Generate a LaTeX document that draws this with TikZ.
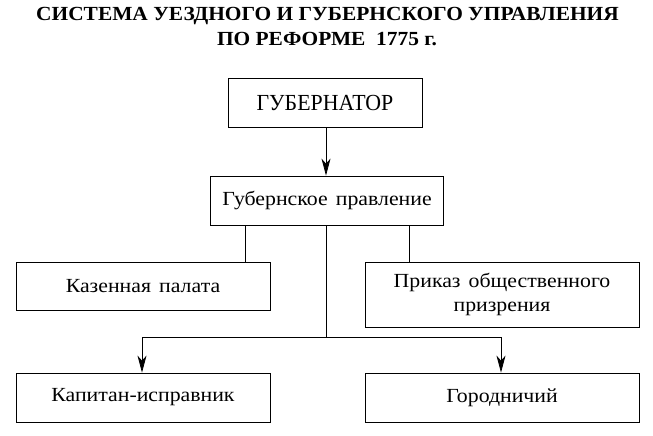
\documentclass[tikz,border=0pt]{standalone}
\usepackage{fontspec}
\setmainfont{Liberation Serif}
\newfontfamily\bodyfont[FakeStretch=1.09, WordSpace=1.5]{Liberation Serif}
\newfontfamily\capsfont[FakeStretch=0.95]{Liberation Serif}
\newfontfamily\titlefont[FakeStretch=1.07]{Liberation Serif}
\usetikzlibrary{arrows.meta}
\begin{document}
\begin{tikzpicture}[x=1pt,y=-1pt,
  box/.style={draw, line width=0.8pt, inner sep=0pt, align=center, font=\bodyfont\fontsize{20}{24}\selectfont},
  conn/.style={line width=0.8pt},
  arr/.style={conn, -{Stealth[length=17pt,width=9pt,inset=5pt]}},
  ttl/.style={font=\titlefont\bfseries\fontsize{20}{25}\selectfont, anchor=base}]
\useasboundingbox (0,0) rectangle (653,436);
\node[ttl] (title1) at (327.5,21) {СИСТЕМА УЕЗДНОГО И ГУБЕРНСКОГО УПРАВЛЕНИЯ};
\node[ttl] (title2) at (327,46) {ПО РЕФОРМЕ~~1775 г.};
\node[box, minimum width=194pt, minimum height=49pt, font=\capsfont\fontsize{23}{27}\selectfont] (gub) at (325,102.5) {ГУБЕРНАТОР};
\node[box, minimum width=233pt, minimum height=49pt] (prav) at (327,200.5) {Губернское правление};
\node[box, minimum width=254pt, minimum height=48pt] (kaz) at (143,286) {Казенная палата};
\node[box, minimum width=274pt, minimum height=65pt] (prik) at (502,294.5) {Приказ общественного\\призрения};
\node[box, minimum width=254pt, minimum height=49pt] (kap) at (143,397.5) {Капитан-исправник};
\node[box, minimum width=274pt, minimum height=49pt] (gor) at (502,397.5) {Городничий};
\coordinate (c1) at (245,0);
\coordinate (c3) at (409,0);
\coordinate (hub) at (326,337);
\draw[arr] (gub.south -| hub) -- (prav.north -| hub);
\draw[conn] (prav.south -| c1) -- (kaz.north -| c1);
\draw[conn] (prav.south -| c3) -- (prik.north -| c3);
\draw[conn] (prav.south -| hub) -- (hub);
\draw[arr] (hub) -| ([xshift=-1pt]kap.north);
\draw[arr] (hub) -| ([xshift=-1pt]gor.north);
\end{tikzpicture}
\end{document}
